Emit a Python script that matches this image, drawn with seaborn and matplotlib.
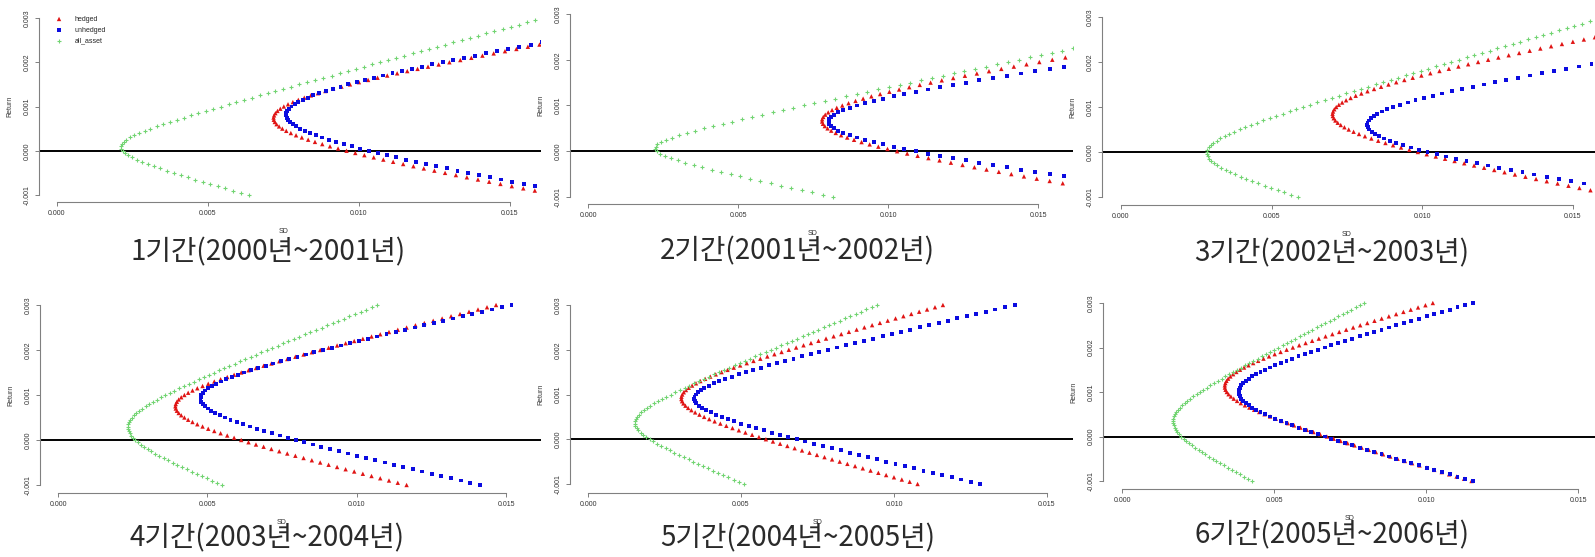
import numpy as np
import pandas as pd
import matplotlib
matplotlib.use("Agg")
import matplotlib.pyplot as plt
import seaborn as sns

# period captions (one per panel)
CAPTIONS = ["1기간(2000년~2001년)", "2기간(2001년~2002년)", "3기간(2002년~2003년)",
            "4기간(2003년~2004년)", "5기간(2004년~2005년)", "6기간(2005년~2006년)"]

# target returns used for the frontier, seq(-0.001, 0.003, by = 0.00005)
RETURNS = np.round(np.arange(81) * 0.00005 - 0.001, 6)

# frontier: minimum-variance SD, its return, and asymptotic slope dSD/dReturn
HEDGED_SD_MIN = [0.00717, 0.00780, 0.00702, 0.00393, 0.00305, 0.00338]
HEDGED_RET_MIN = [0.00074, 0.00067, 0.00084, 0.00075, 0.00092, 0.00113]
HEDGED_SLOPE = [8.60, 10.05, 8.23, 6.28, 5.38, 5.16]

UNHEDGED_SD_MIN = [0.00759, 0.00802, 0.00817, 0.00477, 0.00347, 0.00384]
UNHEDGED_RET_MIN = [0.00081, 0.00065, 0.00061, 0.00092, 0.00091, 0.00100]
UNHEDGED_SLOPE = [8.63, 11.42, 9.93, 6.93, 6.46, 5.445]

ALL_SD_MIN = [0.00212, 0.00224, 0.00284, 0.00234, 0.00153, 0.00168]
ALL_RET_MIN = [0.00009, 0.00007, -0.00002, 0.00029, 0.00037, 0.00034]
ALL_SLOPE = [5.49, 7.35, 5.24, 3.85, 3.545, 2.93]

X_TICKS = [0.0, 0.005, 0.010, 0.015]
X_TICK_LABELS = ["0.000", "0.005", "0.010", "0.015"]
Y_TICKS = [-0.001, 0.0, 0.001, 0.002, 0.003]
Y_TICK_LABELS = ["-0.001", "0.000", "0.001", "0.002", "0.003"]

# panel placement in pixels: y-axis line, x=0, x=0.015, right crop, y=0.003, y=-0.001, x-axis line, caption centre
LAYOUT = [
    (39, 57, 510, 541, 18, 195, 202, 268, 252),
    (570, 588, 1038, 1073, 14, 197, 204, 797, 251),
    (1102, 1121, 1573, 1595, 17, 197, 205, 1332, 253),
    (40, 58, 506, 541, 305, 485, 493, 267, 538),
    (570, 588, 1047, 1073, 305, 484, 493, 798, 538),
    (1103, 1122, 1578, 1595, 303, 481, 489, 1332, 535),
]

W, H = 1595, 557


def frontier(sd_min, ret_min, slope):
    sd = np.sqrt(sd_min ** 2 + (slope * (RETURNS - ret_min)) ** 2)
    return pd.DataFrame({"SD": sd, "Return": RETURNS})


sns.set_theme(style="ticks")
plt.rcParams["font.family"] = ["Liberation Sans", "DejaVu Sans"]

fig = plt.figure(figsize=(W / 100, H / 100), dpi=100)

series_style = [
    ("hedged", HEDGED_SD_MIN, HEDGED_RET_MIN, HEDGED_SLOPE, "#e01414", "^", 10),
    ("unhedged", UNHEDGED_SD_MIN, UNHEDGED_RET_MIN, UNHEDGED_SLOPE, "#0c0ce0", "s", 8),
    ("all_asset", ALL_SD_MIN, ALL_RET_MIN, ALL_SLOPE, "#72d472", "+", 5),
]

for i, (left, x0, x15, right, y3, ym1, bottom, cx, cy) in enumerate(LAYOUT):
    top = y3 - 0.04 * (ym1 - y3)
    ax = fig.add_axes([left / W, 1 - bottom / H, (right - left) / W, (bottom - top) / H])
    sx = (x15 - x0) / 0.015
    sy = (ym1 - y3) / 0.004
    ax.set_xlim((left - x0) / sx, (right - x0) / sx)
    ax.set_ylim(-0.001 - (bottom - ym1) / sy, 0.003 + (y3 - top) / sy)

    for name, sd_min, ret_min, slope, color, marker, size in series_style:
        df = frontier(sd_min[i], ret_min[i], slope[i])
        if marker == "+":
            sns.scatterplot(data=df, x="SD", y="Return", ax=ax, color=color, marker=marker,
                            s=size, linewidth=0.8, label=name, legend=False)
        else:
            sns.scatterplot(data=df, x="SD", y="Return", ax=ax, color=color, marker=marker,
                            s=size, edgecolor="none", label=name, legend=False)

    ax.axhline(0, color="black", lw=1.4, zorder=0)

    for side in ["top", "right"]:
        ax.spines[side].set_visible(False)
    ax.spines["left"].set_bounds(-0.001, 0.003)
    ax.spines["bottom"].set_bounds(0, 0.015)
    for side in ["left", "bottom"]:
        ax.spines[side].set_color("#808080")
        ax.spines[side].set_linewidth(0.8)

    ax.set_xticks(X_TICKS)
    ax.set_xticklabels(X_TICK_LABELS, fontsize=5, color="#333333")
    ax.set_yticks(Y_TICKS)
    ax.set_yticklabels(Y_TICK_LABELS, fontsize=5, color="#333333", rotation=90, va="center")
    ax.tick_params(length=3, width=0.7, color="#808080", pad=3)

    xspan = right - left
    yspan = bottom - top
    ax.set_xlabel("SD", fontsize=5, color="#333333")
    ax.xaxis.set_label_coords((x0 + 0.0075 * sx - left) / xspan, -26 / yspan)
    ax.set_ylabel("Return", fontsize=5, color="#333333")
    ax.yaxis.set_label_coords(-26 / xspan, 1 - (ym1 - 0.002 * sy - top) / yspan)

    if i == 0:
        leg = ax.legend(loc="upper left", bbox_to_anchor=((50 - left) / xspan, 1.0),
                        frameon=False, fontsize=5, handlelength=1.2, handletextpad=1.6,
                        labelspacing=0.55, borderaxespad=0.3)
    elif ax.get_legend() is not None:
        ax.get_legend().remove()

    fig.text(cx / W, 1 - cy / H, CAPTIONS[i], ha="center", va="center", fontsize=20,
             fontweight="light", family=["Noto Sans CJK KR", "DejaVu Sans"], color="#2a2a2a")

fig.savefig("out.png", dpi=100, facecolor="white")
